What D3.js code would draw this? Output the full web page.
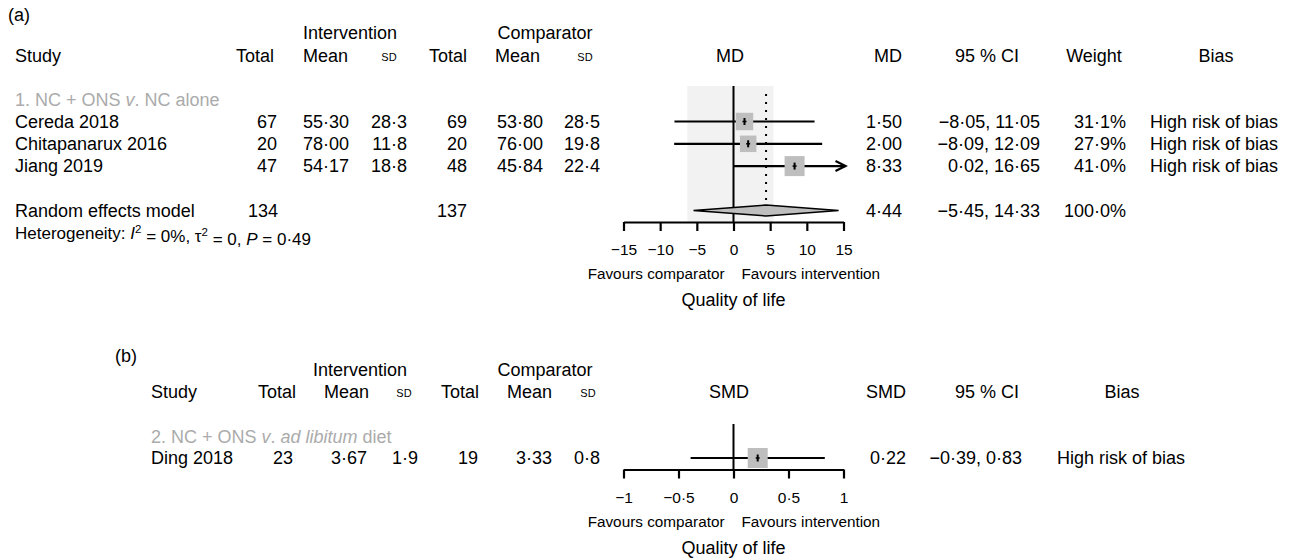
<!DOCTYPE html>
<html>
<head>
<meta charset="utf-8">
<script src="https://cdnjs.cloudflare.com/ajax/libs/d3/7.8.5/d3.min.js"></script>
<style>
  body { margin: 0; background: #fff; }
  svg { font-family: "Liberation Sans", Arial, Helvetica, sans-serif; }
</style>
</head>
<body>
<svg id="chart" width="1296" height="560"></svg>
<script>
// ---- panel (a): NC + ONS v. NC alone, mean difference
var studiesA   = ["Cereda 2018", "Chitapanarux 2016", "Jiang 2019"];
var intTotalA  = [67, 20, 47];
var intMeanA   = [55.30, 78.00, 54.17];
var intSdA     = [28.3, 11.8, 18.8];
var compTotalA = [69, 20, 48];
var compMeanA  = [53.80, 76.00, 45.84];
var compSdA    = [28.5, 19.8, 22.4];
var mdA        = [1.50, 2.00, 8.33];
var loA        = [-8.05, -8.09, 0.02];
var hiA        = [11.05, 12.09, 16.65];
var weightA    = [31.1, 27.9, 41.0];
var biasA      = ["High risk of bias", "High risk of bias", "High risk of bias"];
var pooledA    = { md: 4.44, lo: -5.45, hi: 14.33, weight: 100.0, intTotal: 134, compTotal: 137 };
var shadeA     = [-6.3, 5.45];
var ticksA     = [-15, -10, -5, 0, 5, 10, 15];

// ---- panel (b): NC + ONS v. ad libitum diet, standardised mean difference
var studiesB   = ["Ding 2018"];
var intTotalB  = [23];
var intMeanB   = [3.67];
var intSdB     = [1.9];
var compTotalB = [19];
var compMeanB  = [3.33];
var compSdB    = [0.8];
var smdB       = [0.22];
var loB        = [-0.39];
var hiB        = [0.83];
var weightB    = [100];
var biasB      = ["High risk of bias"];
var ticksB     = [-1, -0.5, 0, 0.5, 1];

var svg = d3.select('#chart');
svg.append('rect').attr('width', 1296).attr('height', 560).attr('fill', '#fff');

var FS = 18;

function fmt(v, p) {
    return d3.format('.' + p + 'f')(v).replace('.', '\u00b7');
}

function txt(x, y, s, anchor, size, fill) {
    return svg.append('text')
        .attr('x', x).attr('y', y)
        .attr('dy', '0.35em')
        .attr('text-anchor', anchor || 'start')
        .attr('font-size', size || FS)
        .attr('fill', fill || '#000')
        .text(s);
}

// draws the forest part of a panel
function forest(p) {
    var x = p.x;
    var g = svg.append('g');
    var size = d3.scaleSqrt().domain([0, d3.max(p.weight)]).range([0, 20]);

    if (p.shade) {
        g.append('rect')
            .attr('x', x(p.shade[0])).attr('y', p.top)
            .attr('width', x(p.shade[1]) - x(p.shade[0]))
            .attr('height', p.axisY - p.top)
            .attr('fill', '#f2f2f2');
    }
    g.append('line')
        .attr('x1', x(0)).attr('x2', x(0))
        .attr('y1', p.top).attr('y2', p.axisY)
        .attr('stroke', '#000').attr('stroke-width', 2);

    if (p.pooled) {
        g.append('line')
            .attr('x1', x(p.pooled.md)).attr('x2', x(p.pooled.md))
            .attr('y1', p.top + 8).attr('y2', p.pooledY - 6)
            .attr('stroke', '#000').attr('stroke-width', 2)
            .attr('stroke-dasharray', '2 6');
    }

    var lim = x.domain();
    p.est.forEach(function(d, i) {
        var y = p.rowY(i);
        var hi = Math.min(p.hi[i], lim[1]);
        var over = p.hi[i] > lim[1];
        var x2 = over ? x(lim[1]) + 2 : x(hi);
        g.append('line')
            .attr('x1', x(p.lo[i])).attr('x2', x2)
            .attr('y1', y).attr('y2', y)
            .attr('stroke', '#000').attr('stroke-width', 2.2);
        if (over) {
            g.append('path')
                .attr('d', 'M' + (x2 - 10) + ',' + (y - 5) + 'L' + x2 + ',' + y + 'L' + (x2 - 10) + ',' + (y + 5))
                .attr('fill', 'none').attr('stroke', '#000').attr('stroke-width', 2.2);
        }
        var s = size(p.weight[i]);
        g.append('rect')
            .attr('x', x(d) - s / 2).attr('y', y - s / 2)
            .attr('width', s).attr('height', s)
            .attr('fill', '#bebebe');
        g.append('line')
            .attr('x1', x(d)).attr('x2', x(d))
            .attr('y1', y - 3.5).attr('y2', y + 3.5)
            .attr('stroke', '#000').attr('stroke-width', 2);
        g.append('line')
            .attr('x1', x(d) - 2).attr('x2', x(d) + 2)
            .attr('y1', y).attr('y2', y)
            .attr('stroke', '#000').attr('stroke-width', 1.5);
    });

    if (p.pooled) {
        var yd = p.pooledY;
        g.append('polygon')
            .attr('points', [
                [x(p.pooled.lo), yd], [x(p.pooled.md), yd - 5.5],
                [x(p.pooled.hi), yd], [x(p.pooled.md), yd + 5.5]
            ].join(' '))
            .attr('fill', '#bebebe').attr('stroke', '#000').attr('stroke-width', 1.5);
    }

    var axis = d3.axisBottom(x)
        .tickValues(p.ticks)
        .tickSize(9).tickSizeOuter(0).tickPadding(13)
        .tickFormat(function(v) { return d3.format('')(v).replace('.', '\u00b7'); });
    var ax = svg.append('g')
        .attr('transform', 'translate(0,' + p.axisY + ')')
        .call(axis);
    ax.select('.domain').attr('stroke-width', 2.2);
    ax.selectAll('.tick line').attr('stroke-width', 2.2);
    ax.selectAll('.tick text')
        .attr('font-size', 15.5)
        .attr('font-family', '"Liberation Sans", Arial, sans-serif')
        .attr('fill', '#000');

    txt(x(0) - 9, p.axisY + 52, 'Favours comparator', 'end', 15.3);
    txt(x(0) + 8, p.axisY + 52, 'Favours intervention', 'start', 15.3);
    txt((x.range()[0] + x.range()[1]) / 2, p.axisY + 78, 'Quality of life', 'middle', 18);
}

// ---------------- panel (a)
var xA = d3.scaleLinear().domain([-15, 15]).range([623.5, 843.5]);
var rowA = d3.scaleLinear().domain([0, 1]).range([121.5, 143.8]);

txt(8, 15, '(a)');
txt(350, 33, 'Intervention', 'middle');
txt(545, 33, 'Comparator', 'middle');
txt(15, 56, 'Study');
txt(274, 56, 'Total', 'end');
txt(348, 56, 'Mean', 'end');
txt(389, 57, 'SD', 'middle', 11);
txt(467, 56, 'Total', 'end');
txt(540, 56, 'Mean', 'end');
txt(585, 57, 'SD', 'middle', 11);
txt(730, 56, 'MD', 'middle');
txt(902, 56, 'MD', 'end');
txt(987, 56, '95 % CI', 'middle');
txt(1094, 56, 'Weight', 'middle');
txt(1216, 56, 'Bias', 'middle');

var grpA = txt(15, rowA(-1), '', 'start', FS, '#ababab');
grpA.append('tspan').text('1. NC + ONS ');
grpA.append('tspan').attr('font-style', 'italic').text('v');
grpA.append('tspan').text('. NC alone');

studiesA.forEach(function(s, i) {
    var y = rowA(i);
    txt(15, y, s);
    txt(277, y, intTotalA[i], 'end');
    txt(349, y, fmt(intMeanA[i], 2), 'end');
    txt(407, y, fmt(intSdA[i], 1), 'end');
    txt(467, y, compTotalA[i], 'end');
    txt(543, y, fmt(compMeanA[i], 2), 'end');
    txt(600, y, fmt(compSdA[i], 1), 'end');
    txt(902, y, fmt(mdA[i], 2), 'end');
    txt(1040, y, fmt(loA[i], 2) + ', ' + fmt(hiA[i], 2), 'end');
    txt(1126, y, fmt(weightA[i], 1) + '%', 'end');
    txt(1150, y, biasA[i]);
});

var yPA = rowA(4);
txt(15, yPA, 'Random effects model');
txt(278, yPA, pooledA.intTotal, 'end');
txt(467, yPA, pooledA.compTotal, 'end');
txt(902, yPA, fmt(pooledA.md, 2), 'end');
txt(1040, yPA, fmt(pooledA.lo, 2) + ', ' + fmt(pooledA.hi, 2), 'end');
txt(1126, yPA, fmt(pooledA.weight, 1) + '%', 'end');

var het = txt(15, 233, '', 'start', 17);
het.append('tspan').text('Heterogeneity: ');
het.append('tspan').attr('font-style', 'italic').text('I');
het.append('tspan').attr('font-size', 11.5).attr('dy', '-0.55em').text('2');
het.append('tspan').attr('dy', '0.55em').text(' = 0%, \u03c4');
het.append('tspan').attr('font-size', 11.5).attr('dy', '-0.55em').text('2');
het.append('tspan').attr('dy', '0.55em').text(' = 0, ');
het.append('tspan').attr('font-style', 'italic').text('P');
het.append('tspan').text(' = 0\u00b749');

forest({
    x: xA, rowY: rowA, top: 86, axisY: 222,
    est: mdA, lo: loA, hi: hiA, weight: weightA,
    pooled: pooledA, pooledY: 210.5, shade: shadeA, ticks: ticksA
});

// ---------------- panel (b)
var xB = d3.scaleLinear().domain([-1, 1]).range([623.5, 843.5]);
var rowB = d3.scaleLinear().domain([0, 1]).range([458, 481]);

txt(115, 356, '(b)');
txt(360, 370, 'Intervention', 'middle');
txt(545, 370, 'Comparator', 'middle');
txt(151, 392, 'Study');
txt(296, 392, 'Total', 'end');
txt(369, 392, 'Mean', 'end');
txt(404, 393, 'SD', 'middle', 11);
txt(479, 392, 'Total', 'end');
txt(552, 392, 'Mean', 'end');
txt(588, 393, 'SD', 'middle', 11);
txt(729, 392, 'SMD', 'middle');
txt(906, 392, 'SMD', 'end');
txt(987, 392, '95 % CI', 'middle');
txt(1122, 392, 'Bias', 'middle');

var grpB = txt(151, rowB(-1) + 2, '', 'start', FS, '#ababab');
grpB.append('tspan').text('2. NC + ONS ');
grpB.append('tspan').attr('font-style', 'italic').text('v');
grpB.append('tspan').text('. ');
grpB.append('tspan').attr('font-style', 'italic').text('ad libitum');
grpB.append('tspan').text(' diet');

studiesB.forEach(function(s, i) {
    var y = rowB(i);
    txt(151, y, s);
    txt(293, y, intTotalB[i], 'end');
    txt(367, y, fmt(intMeanB[i], 2), 'end');
    txt(418, y, fmt(intSdB[i], 1), 'end');
    txt(478, y, compTotalB[i], 'end');
    txt(552, y, fmt(compMeanB[i], 2), 'end');
    txt(600, y, fmt(compSdB[i], 1), 'end');
    txt(906, y, fmt(smdB[i], 2), 'end');
    txt(1022, y, fmt(loB[i], 2) + ', ' + fmt(hiB[i], 2), 'end');
    txt(1057, y, biasB[i]);
});

forest({
    x: xB, rowY: rowB, top: 424, axisY: 469.5,
    est: smdB, lo: loB, hi: hiB, weight: weightB,
    pooled: null, ticks: ticksB
});
</script>
</body>
</html>
